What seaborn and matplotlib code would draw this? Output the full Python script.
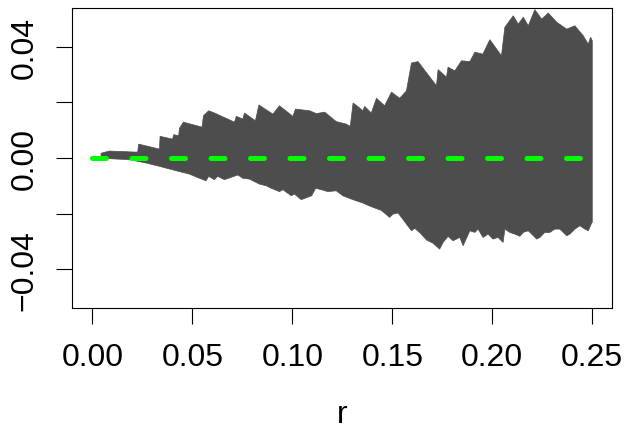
import numpy as np
import pandas as pd
import matplotlib
matplotlib.use("Agg")
import matplotlib.pyplot as plt
import seaborn as sns

# upper edge of the envelope
r_hi = [0.0044, 0.0085, 0.0227, 0.0232, 0.0336, 0.0339, 0.0402, 0.0407, 0.0432, 0.0436,
        0.0456, 0.0549, 0.0556, 0.0582, 0.0611, 0.0711, 0.0720, 0.0753, 0.0761, 0.0816,
        0.0833, 0.0903, 0.0936, 0.1003, 0.1016, 0.1087, 0.1120, 0.1162, 0.1220, 0.1270,
        0.1290, 0.1304, 0.1330, 0.1353, 0.1362, 0.1395, 0.1421, 0.1462, 0.1496, 0.1537,
        0.1571, 0.1596, 0.1629, 0.1721, 0.1729, 0.1771, 0.1779, 0.1813, 0.1846, 0.1888,
        0.1913, 0.1953, 0.1988, 0.2046, 0.2063, 0.2105, 0.2130, 0.2155, 0.2180, 0.2213,
        0.2247, 0.2280, 0.2322, 0.2372, 0.2413, 0.2455, 0.2480, 0.2492, 0.2500]
hi = [0.0017, 0.0025, 0.0021, 0.0050, 0.0032, 0.0078, 0.0068, 0.0084, 0.0080, 0.0107,
      0.0129, 0.0111, 0.0152, 0.0170, 0.0162, 0.0129, 0.0150, 0.0140, 0.0162, 0.0134,
      0.0191, 0.0158, 0.0188, 0.0150, 0.0176, 0.0170, 0.0160, 0.0165, 0.0131, 0.0122,
      0.0114, 0.0198, 0.0184, 0.0170, 0.0186, 0.0162, 0.0215, 0.0188, 0.0237, 0.0215,
      0.0242, 0.0342, 0.0347, 0.0260, 0.0318, 0.0291, 0.0327, 0.0314, 0.0350, 0.0347,
      0.0381, 0.0374, 0.0426, 0.0368, 0.0471, 0.0512, 0.0482, 0.0507, 0.0476, 0.0534,
      0.0500, 0.0522, 0.0489, 0.0464, 0.0476, 0.0440, 0.0410, 0.0435, 0.0422]

# lower edge of the envelope
r_lo = [0.0044, 0.0185, 0.0269, 0.0336, 0.0436, 0.0486, 0.0536, 0.0569, 0.0582, 0.0611,
        0.0627, 0.0661, 0.0728, 0.0753, 0.0786, 0.0836, 0.0870, 0.0895, 0.0936, 0.0953,
        0.0995, 0.1011, 0.1045, 0.1078, 0.1097, 0.1117, 0.1145, 0.1178, 0.1220, 0.1253,
        0.1303, 0.1353, 0.1387, 0.1446, 0.1487, 0.1504, 0.1529, 0.1546, 0.1571, 0.1596,
        0.1612, 0.1637, 0.1671, 0.1704, 0.1737, 0.1754, 0.1779, 0.1804, 0.1838, 0.1854,
        0.1888, 0.1913, 0.1929, 0.1954, 0.1979, 0.2004, 0.2029, 0.2054, 0.2063, 0.2088,
        0.2113, 0.2138, 0.2155, 0.2180, 0.2197, 0.2222, 0.2238, 0.2263, 0.2288, 0.2313,
        0.2338, 0.2355, 0.2372, 0.2388, 0.2413, 0.2438, 0.2463, 0.2480, 0.2497, 0.2500]
lo = [-0.0001, -0.0006, -0.0018, -0.0030, -0.0049, -0.0058, -0.0073, -0.0082, -0.0066, -0.0078,
      -0.0066, -0.0078, -0.0061, -0.0073, -0.0076, -0.0094, -0.0100, -0.0109, -0.0121, -0.0114,
      -0.0136, -0.0130, -0.0150, -0.0141, -0.0136, -0.0109, -0.0114, -0.0121, -0.0118, -0.0136,
      -0.0150, -0.0162, -0.0173, -0.0189, -0.0214, -0.0202, -0.0198, -0.0214, -0.0238, -0.0262,
      -0.0253, -0.0268, -0.0295, -0.0307, -0.0328, -0.0304, -0.0282, -0.0298, -0.0286, -0.0316,
      -0.0262, -0.0268, -0.0256, -0.0286, -0.0274, -0.0292, -0.0286, -0.0304, -0.0256, -0.0268,
      -0.0274, -0.0282, -0.0268, -0.0262, -0.0274, -0.0292, -0.0286, -0.0268, -0.0268, -0.0256,
      -0.0256, -0.0268, -0.0280, -0.0274, -0.0256, -0.0244, -0.0256, -0.0262, -0.0234, -0.0232]

# theoretical line
r_theo = [0.0, 0.25]
theo = [0.0, 0.0]

x_ticks = [0.00, 0.05, 0.10, 0.15, 0.20, 0.25]
y_ticks = [-0.04, -0.02, 0.00, 0.02, 0.04]
y_labels = ["\u22120.04", "", "0.00", "", "0.04"]

sns.set_theme(style="ticks")
plt.rcParams["font.family"] = ["Liberation Sans", "DejaVu Sans"]

fig = plt.figure(figsize=(6.29, 4.31), dpi=100)
ax = fig.add_axes([0.1149, 0.2831, 0.8585, 0.696])

# envelope polygon
poly_r = np.concatenate([r_hi, r_lo[::-1]])
poly_v = np.concatenate([hi, lo[::-1]])
ax.fill(poly_r, poly_v, color="#4D4D4D", linewidth=0.5, edgecolor="#4D4D4D")

df_theo = pd.DataFrame({"r": r_theo, "v": theo})
sns.lineplot(data=df_theo, x="r", y="v", ax=ax, color="#00FF00", linewidth=3.6,
             linestyle=(0, (2.8, 5.1)), dash_capstyle="round")

ax.set_xlim(-0.01, 0.26)
ax.set_ylim(-0.054, 0.054)
ax.set_xticks(x_ticks)
ax.set_xticklabels([f"{t:.2f}" for t in x_ticks])
ax.set_yticks(y_ticks)
ax.set_yticklabels(y_labels)
for lab in ax.get_yticklabels():
    lab.set_rotation(90)
    lab.set_va("center")

ax.tick_params(axis="both", length=11.3, width=0.8, color="black",
               labelsize=23, labelcolor="black")
ax.tick_params(axis="x", pad=13.4)
ax.tick_params(axis="y", pad=12)
for s in ax.spines.values():
    s.set_color("black")
    s.set_linewidth(0.8)

ax.set_xlabel("r", fontsize=23, labelpad=19.5, color="black")
ax.set_ylabel("")

fig.savefig("out.png", dpi=100)
